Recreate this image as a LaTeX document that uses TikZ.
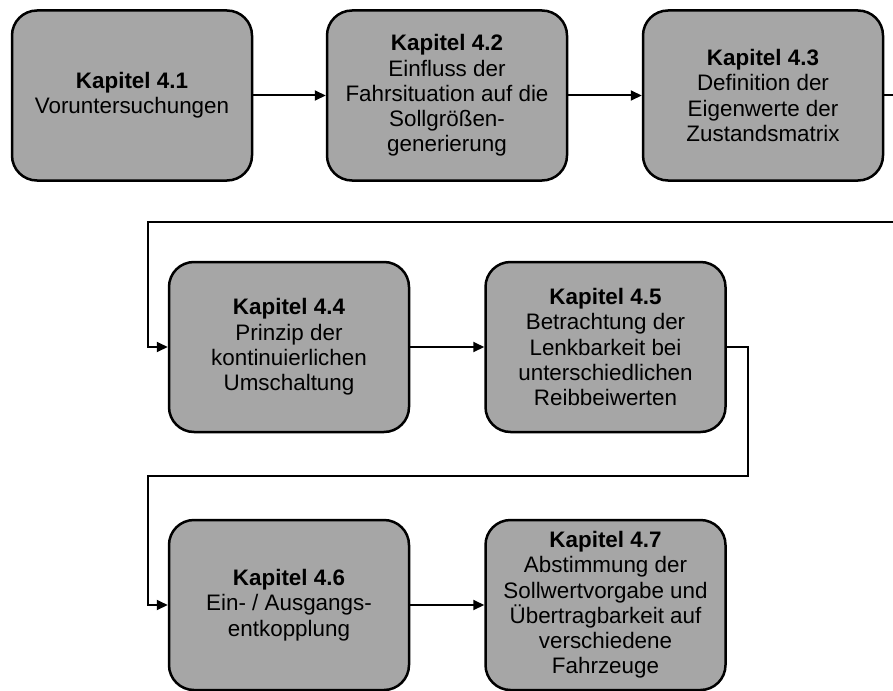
\documentclass[tikz,border=0pt]{standalone}
\usepackage{fontspec}
\setmainfont{Liberation Sans}
\usepackage{tikz}
\usetikzlibrary{arrows.meta,positioning}
\definecolor{boxgray}{HTML}{A6A6A6}
\tikzset{
  ar/.style={-{Triangle[length=5.5pt,width=5pt]},line width=1pt,black},
  box/.style={draw=black,line width=1.25pt,rounded corners=12.5pt,fill=boxgray,align=center,
    minimum width=120pt,minimum height=85pt,inner sep=0pt,font=\fontsize{11.2}{12.6}\selectfont}
}
\begin{document}
\begin{tikzpicture}[x=0.5pt,y=-0.5pt]
\useasboundingbox (0,0) rectangle (893,690);
\clip (0,0) rectangle (893,690);
\node[box] (k41) at (132,95.5) {\textbf{Kapitel 4.1}\\Voruntersuchungen};
\node[box] (k42) at (447,95.5) {\textbf{Kapitel 4.2}\\Einfluss der\\Fahrsituation auf die\\Sollgrößen-\\generierung};
\node[box] (k43) at (763,95.5) {\textbf{Kapitel 4.3}\\Definition der\\Eigenwerte der\\Zustandsmatrix};
\node[box] (k44) at (289,347) {\textbf{Kapitel 4.4}\\Prinzip der\\kontinuierlichen\\Umschaltung};
\node[box] (k45) at (605.5,347) {\textbf{Kapitel 4.5}\\Betrachtung der\\Lenkbarkeit bei\\unterschiedlichen\\Reibbeiwerten};
\node[box] (k46) at (289,605) {\textbf{Kapitel 4.6}\\Ein- / Ausgangs-\\entkopplung};
\node[box] (k47) at (605.5,605) {\textbf{Kapitel 4.7}\\Abstimmung der\\Sollwertvorgabe und\\Übertragbarkeit auf\\verschiedene\\Fahrzeuge};
\coordinate (j1) at (148,222);
\coordinate (j2) at (148,476);
\draw[ar] (k41) -- (k42);
\draw[ar] (k42) -- (k43);
\draw[ar] (k43.east) -- ++(20,0) |- (j1) |- (k44.west);
\draw[ar] (k44) -- (k45);
\draw[ar] (k45.east) -- ++(21,0) |- (j2) |- (k46.west);
\draw[ar] (k46) -- (k47);
\end{tikzpicture}
\end{document}
